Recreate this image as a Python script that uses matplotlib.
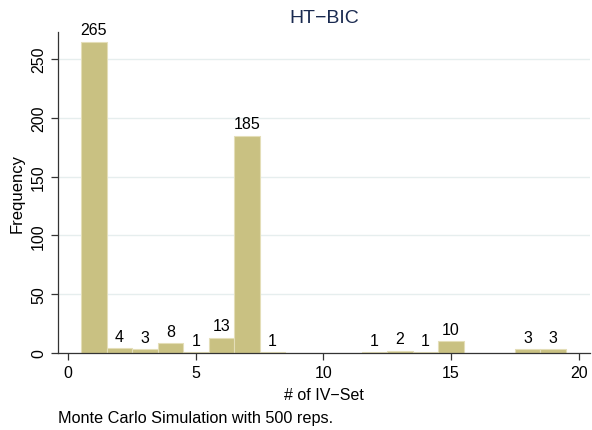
import matplotlib
matplotlib.use("Agg")
import matplotlib.pyplot as plt

plt.rcParams['font.family'] = ['Liberation Sans', 'DejaVu Sans']

iv_set = [1, 2, 3, 4, 5, 6, 7, 8, 12, 13, 14, 15, 18, 19]
counts = [265, 4, 3, 8, 1, 13, 185, 1, 1, 2, 1, 10, 3, 3]
x_ticks = [0, 5, 10, 15, 20]
y_ticks = [0, 50, 100, 150, 200, 250]

fig = plt.figure(figsize=(5.92, 4.31), dpi=100)
ax = fig.add_axes([0.098, 0.179, 0.899, 0.744])

ax.bar(iv_set, counts, width=1.0, color='#c9c182', edgecolor='#e4deb8',
       linewidth=0.8, zorder=2)
for xv, c in zip(iv_set, counts):
    ax.text(xv, c + 3.5, str(c), ha='center', va='bottom', fontsize=11.5,
            color='black', zorder=3)

ax.set_xlim(-0.4, 20.45)
ax.set_ylim(0, 273)
ax.set_xticks(x_ticks)
ax.set_yticks(y_ticks)
ax.set_yticklabels([str(v) for v in y_ticks], rotation=90, va='center')
ax.tick_params(axis='both', labelsize=11.5, length=5, width=0.9, color='#333333')
ax.yaxis.grid(True, color='#e6eeee', linewidth=1.0, zorder=0)
ax.set_axisbelow(True)
for s in ['top', 'right']:
    ax.spines[s].set_visible(False)
for s in ['left', 'bottom']:
    ax.spines[s].set_color('#333333')
    ax.spines[s].set_linewidth(0.9)

ax.set_xlabel('# of IV\u2212Set', fontsize=11.5, labelpad=5)
ax.set_ylabel('Frequency', fontsize=12, labelpad=5)
fig.text(0.548, 0.958, 'HT\u2212BIC', ha='center', va='center', fontsize=14,
         color='#1a2a50')
fig.text(0.098, 0.03, 'Monte Carlo Simulation with 500 reps.', ha='left',
         va='center', fontsize=11.7)

fig.savefig('out.png', dpi=100, facecolor='white')
